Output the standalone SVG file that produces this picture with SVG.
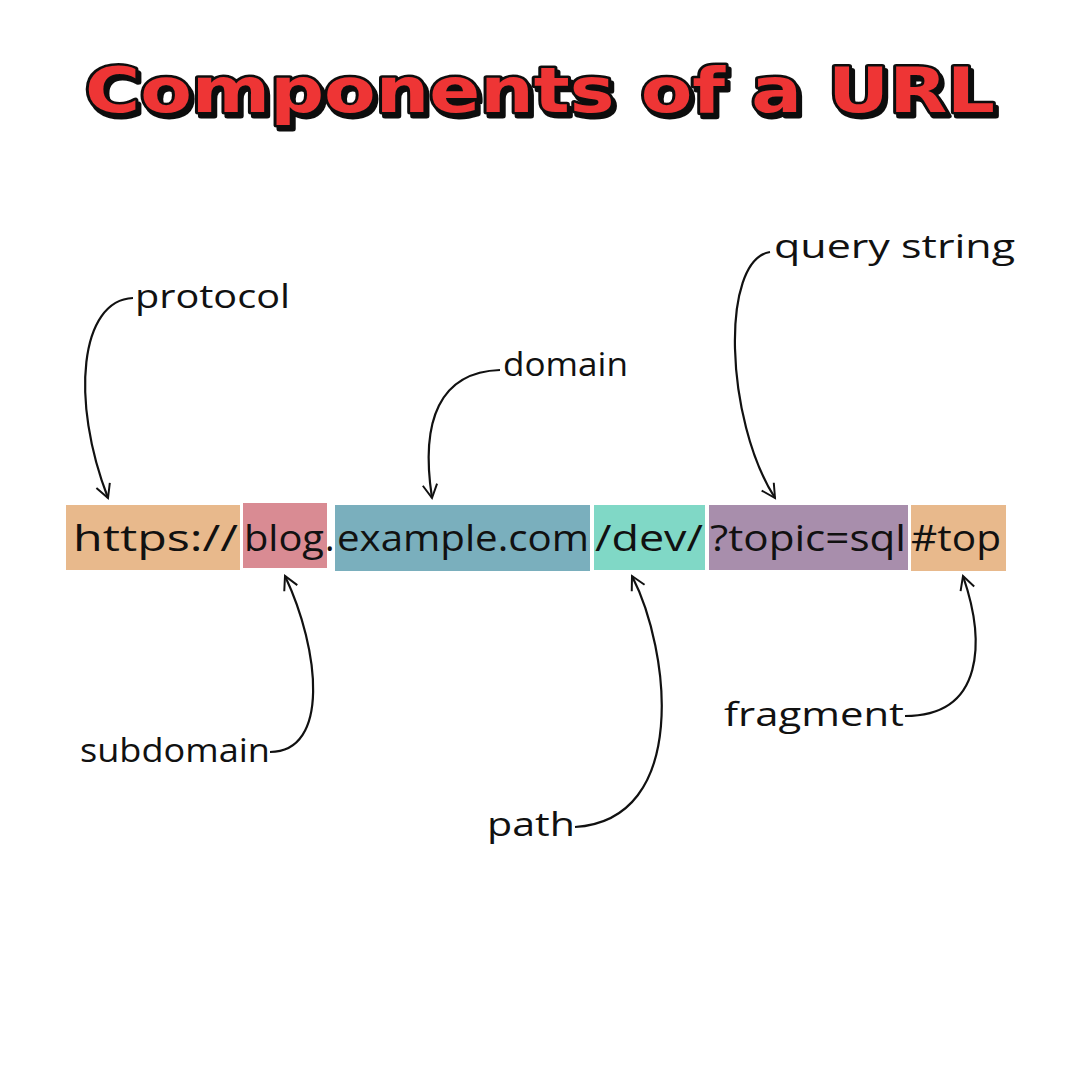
<svg xmlns="http://www.w3.org/2000/svg" width="1080" height="1080" viewBox="0 0 1080 1080">
<defs>
<style>
.seg{font-family:"Open Sans","DejaVu Sans",sans-serif;font-size:36px;fill:#111}
.lbl{font-family:"Open Sans","DejaVu Sans",sans-serif;font-size:32px;fill:#111}
.arr{fill:none;stroke:#111;stroke-width:2.2;marker-end:url(#ah)}
.title{font-family:"DejaVu Sans",sans-serif;font-weight:bold;font-size:62px;fill:#ee3535;stroke:#111;stroke-width:5;paint-order:stroke;stroke-linejoin:round}
</style>
<filter id="sh" x="-5%" y="-20%" width="110%" height="150%">
<feDropShadow dx="3" dy="4" stdDeviation="0" flood-color="#111" flood-opacity="1"/>
</filter>
<marker id="ah" viewBox="0 0 20 20" refX="17" refY="10" markerWidth="18" markerHeight="18" orient="auto" markerUnits="userSpaceOnUse">
<path d="M2,2 L17,10 L2,18" fill="none" stroke="#111" stroke-width="2.2"/>
</marker>
</defs>
<rect width="1080" height="1080" fill="#fff"/>
<g id="title">
<text x="540" y="112" text-anchor="middle" class="title" filter="url(#sh)" textLength="910" lengthAdjust="spacingAndGlyphs">Components of a URL</text>
</g>
<g id="url">
<rect x="66" y="505" width="174" height="65" fill="#e8b98c"/>
<rect x="243" y="503" width="84" height="65" fill="#d98b93"/>
<rect x="335" y="505" width="255" height="66" fill="#7aafbd"/>
<rect x="594" y="505" width="111" height="65" fill="#80d8c6"/>
<rect x="709" y="505" width="199" height="65" fill="#a88eac"/>
<rect x="911" y="505" width="95" height="66" fill="#e8b98c"/>
<text class="seg" x="73" y="551" textLength="165" lengthAdjust="spacingAndGlyphs">https://</text>
<text class="seg" x="244" y="551" textLength="80" lengthAdjust="spacingAndGlyphs">blog</text>
<text class="seg" x="325" y="551">.</text>
<text class="seg" x="337" y="551" textLength="252" lengthAdjust="spacingAndGlyphs">example.com</text>
<text class="seg" x="595" y="551" textLength="108" lengthAdjust="spacingAndGlyphs">/dev/</text>
<text class="seg" x="710" y="551" textLength="196" lengthAdjust="spacingAndGlyphs">?topic=sql</text>
<text class="seg" x="911" y="551" textLength="90" lengthAdjust="spacingAndGlyphs">#top</text>
</g>
<g id="labels">
<text class="lbl" x="135" y="308" textLength="155" lengthAdjust="spacingAndGlyphs">protocol</text>
<text class="lbl" x="503" y="376" textLength="125" lengthAdjust="spacingAndGlyphs">domain</text>
<text class="lbl" x="774" y="258" textLength="241" lengthAdjust="spacingAndGlyphs">query string</text>
<text class="lbl" x="80" y="762" textLength="190" lengthAdjust="spacingAndGlyphs">subdomain</text>
<text class="lbl" x="487" y="836" textLength="88" lengthAdjust="spacingAndGlyphs">path</text>
<text class="lbl" x="724" y="726" textLength="180" lengthAdjust="spacingAndGlyphs">fragment</text>
</g>
<g id="connectors">
<path class="arr" d="M133,298 C80,300 70,400 108,498"/>
<path class="arr" d="M500,370 C440,372 420,420 432,498"/>
<path class="arr" d="M770,252 C720,260 725,420 775,498"/>
<path class="arr" d="M270,752 C330,752 320,650 285,576"/>
<path class="arr" d="M575,827 C690,820 670,650 632,576"/>
<path class="arr" d="M905,716 C985,716 985,640 963,576"/>
</g>
</svg>
